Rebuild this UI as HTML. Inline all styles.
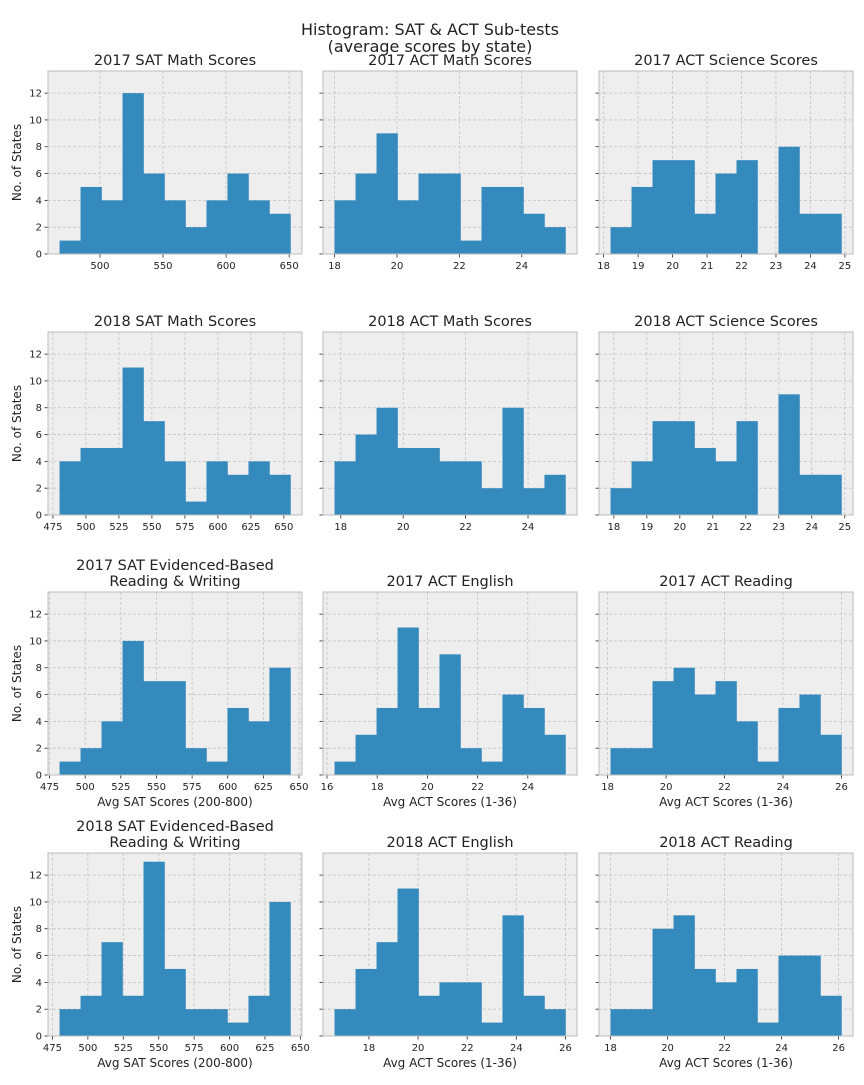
<!DOCTYPE html>
<html><head><meta charset="utf-8">
<style>
body{margin:0;background:#fff;}
svg text{font-family:"DejaVu Sans","Liberation Sans",sans-serif;fill:#222;}
</style></head>
<body>
<svg id="fig" width="864" height="1080" xmlns="http://www.w3.org/2000/svg">
<text x="430" y="35" font-size="16" text-anchor="middle">Histogram: SAT &amp; ACT Sub-tests</text>
<text x="430" y="52" font-size="16" text-anchor="middle">(average scores by state)</text>
</svg>
<script>
const titles = [["2017 SAT Math Scores"],["2017 ACT Math Scores"],["2017 ACT Science Scores"],
["2018 SAT Math Scores"],["2018 ACT Math Scores"],["2018 ACT Science Scores"],
["2017 SAT Evidenced-Based","Reading & Writing"],["2017 ACT English"],["2017 ACT Reading"],
["2018 SAT Evidenced-Based","Reading & Writing"],["2018 ACT English"],["2018 ACT Reading"]];
const mins = [468,18.0,18.2, 480,17.8,17.9, 482,16.3,18.1, 480,16.6,18.0];
const maxs = [651,25.4,24.9, 655,25.2,24.9, 644,25.5,26.0, 643,26.0,26.1];
const counts1 = [1,5,4,12,6,4,2,4,6,4,3];
const counts2 = [4,6,9,4,6,6,1,5,5,3,2];
const counts3 = [2,5,7,7,3,6,7,0,8,3,3];
const counts4 = [4,5,5,11,7,4,1,4,3,4,3];
const counts5 = [4,6,8,5,5,4,4,2,8,2,3];
const counts6 = [2,4,7,7,5,4,7,0,9,3,3];
const counts7 = [1,2,4,10,7,7,2,1,5,4,8];
const counts8 = [1,3,5,11,5,9,2,1,6,5,3];
const counts9 = [2,2,7,8,6,7,4,1,5,6,3];
const counts10 = [2,3,7,3,13,5,2,2,1,3,10];
const counts11 = [2,5,7,11,3,4,4,1,9,3,2];
const counts12 = [2,2,8,9,5,4,5,1,6,6,3];
const allCounts=[counts1,counts2,counts3,counts4,counts5,counts6,counts7,counts8,counts9,counts10,counts11,counts12];
const satTicks1=[500,550,600,650];
const satTicks2=[475,500,525,550,575,600,625,650];
const xticks = [satTicks1,[18,20,22,24],[18,19,20,21,22,23,24,25],
satTicks2,[18,20,22,24],[18,19,20,21,22,23,24,25],
satTicks2,[16,18,20,22,24],[18,20,22,24,26],
satTicks2,[18,20,22,24,26],[18,20,22,24,26]];
const yticks=[0,2,4,6,8,10,12];
const xlabels=["Avg SAT Scores (200-800)","Avg ACT Scores (1-36)","Avg ACT Scores (1-36)"];

const NS="http://www.w3.org/2000/svg";
const fig=document.getElementById('fig');
function mk(tag,attrs,parent){const e=document.createElementNS(NS,tag);for(const k in attrs)e.setAttribute(k,attrs[k]);(parent||fig).appendChild(e);return e;}
const colL=[48,323,599], rowT=[71,332,592,853], W=254, H=183, YMAX=13.65;
for(let i=0;i<12;i++){
  const r=Math.floor(i/3), c=i%3;
  const L=colL[c], T=rowT[r];
  const g=mk('g',{});
  
  
  const mn=mins[i], mx=maxs[i], w=mx-mn, x0=mn-0.05*w, x1=mx+0.05*w;
  const sx=v=>L+(v-x0)/(x1-x0)*W;
  const sy=v=>T+H-v/YMAX*H;
  mk('rect',{x:L,y:T,width:W,height:H,fill:'#eeeeee'},g);
  xticks[i].forEach(t=>{
    const x=sx(t);
    mk('line',{x1:x,x2:x,y1:T,y2:T+H,stroke:'#c4c4c4','stroke-width':0.8,'stroke-dasharray':'3,2'},g);
    mk('line',{x1:x,x2:x,y1:T+H,y2:T+H+3.5,stroke:'#222','stroke-width':0.8},g);
    const tl=mk('text',{x:x,y:T+H+15,'font-size':10,'text-anchor':'middle'},g);
    
    
    tl.textContent=t;
  });
  yticks.forEach(t=>{
    const y=sy(t);
    mk('line',{x1:L,x2:L+W,y1:y,y2:y,stroke:'#c4c4c4','stroke-width':0.8,'stroke-dasharray':'3,2'},g);
    mk('line',{x1:L-3.5,x2:L,y1:y,y2:y,stroke:'#222','stroke-width':0.8},g);
    if(c===0){
      const tl=mk('text',{x:L-6,y:y+3.5,'font-size':10,'text-anchor':'end'},g);
      
      
      tl.textContent=t;
    }
  });
  const cnt=allCounts[i], n=cnt.length, bw=w/n;
  cnt.forEach((v,k)=>{
    if(v<=0)return;
    const xa=sx(mn+k*bw), xb=sx(mn+(k+1)*bw);
    const b=mk('rect',{x:xa,y:sy(v),width:xb-xa+0.3,height:sy(0)-sy(v),fill:'#348abd'},g);
    
    
  });
  mk('rect',{x:L,y:T,width:W,height:H,fill:'none',stroke:'#bcbcbc','stroke-width':1},g);
  const tt=titles[i];
  tt.forEach((s,k)=>{
    const te=mk('text',{x:L+W/2,y:T-6-(tt.length-1-k)*16,'font-size':14.5,'text-anchor':'middle'},g);
    
    
    te.textContent=s;
  });
  if(c===0){
    const yl=mk('text',{x:0,y:0,'font-size':12,'text-anchor':'middle',transform:`translate(21,${T+H/2}) rotate(-90)`},g);
    
    
    yl.textContent='No. of States';
  }
  if(r>=2){
    const xl=mk('text',{x:L+W/2,y:T+H+31,'font-size':12,'text-anchor':'middle'},g);
    
    
    xl.textContent=xlabels[c];
  }
}
</script>
</body></html>
